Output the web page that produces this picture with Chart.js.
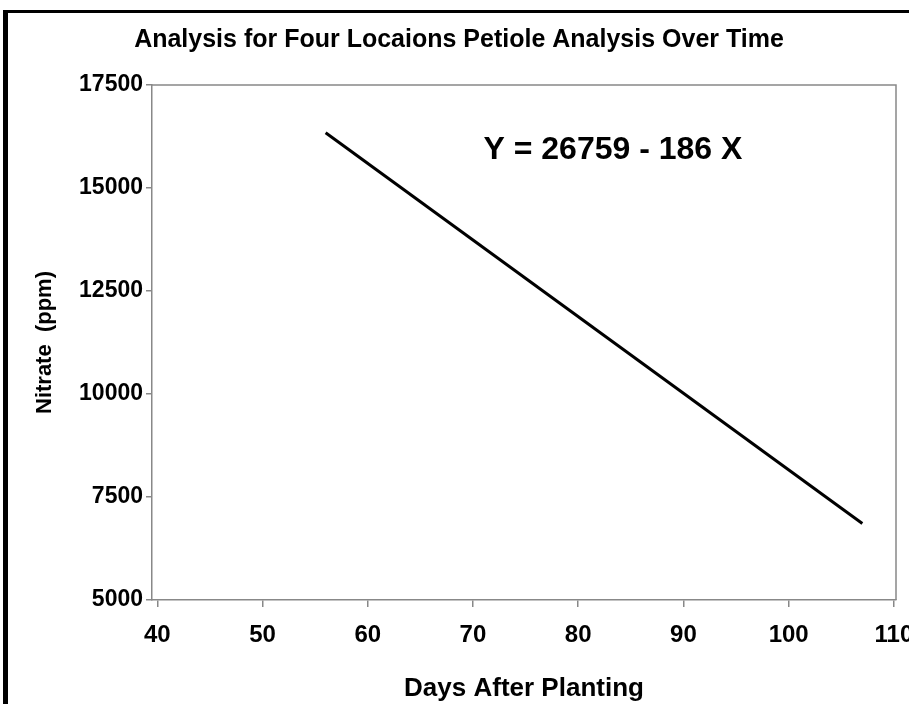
<!DOCTYPE html>
<html>
<head>
<meta charset="utf-8">
<script src="https://cdn.jsdelivr.net/npm/chart.js@4.4.1/dist/chart.umd.min.js"></script>
<style>
  html, body { margin: 0; padding: 0; background: #fff; overflow: hidden; }
  #frame {
    position: absolute; left: 3px; top: 10px; width: 1000px; height: 1000px;
    border-left: 5px solid #000; border-top: 3px solid #000;
  }
  #wrap { position: absolute; left: 0; top: 0; width: 909px; height: 704px; }
</style>
</head>
<body>
<div id="frame"></div>
<div id="wrap"><canvas id="c" width="909" height="704"></canvas></div>
<script>
const chartTitle = "Analysis for Four Locaions Petiole Analysis Over Time";
const xTitle = "Days After Planting";
const yTitle = "Nitrate  (ppm)";
const equation = "Y = 26759 - 186 X";

// fitted line endpoints (days, ppm)
const days = [56, 107];
const nitrate = [16343, 6857];

const xTicks = [40, 50, 60, 70, 80, 90, 100, 110];
const yTicks = [5000, 7500, 10000, 12500, 15000, 17500];

const eqPos = { x: 83.3, y: 15920 };

const FONT = "'Liberation Sans', Arial, sans-serif";
const axisGray = "#888888";

const boxAndLabel = {
  id: "boxAndLabel",
  afterDraw(chart) {
    const { ctx, chartArea: a, scales } = chart;
    ctx.save();
    ctx.strokeStyle = axisGray;
    ctx.lineWidth = 1.5;
    ctx.beginPath();
    ctx.moveTo(a.left, a.top);
    ctx.lineTo(a.right, a.top);
    ctx.lineTo(a.right, a.bottom);
    ctx.stroke();
    ctx.fillStyle = "#000";
    ctx.font = "bold 32px " + FONT;
    ctx.textAlign = "center";
    ctx.textBaseline = "middle";
    ctx.fillText(equation, scales.x.getPixelForValue(eqPos.x), scales.y.getPixelForValue(eqPos.y));
    ctx.restore();
  }
};

new Chart(document.getElementById("c"), {
  type: "line",
  data: {
    datasets: [{
      data: days.map((d, i) => ({ x: d, y: nitrate[i] })),
      borderColor: "#000",
      borderWidth: 3,
      pointRadius: 0,
      tension: 0
    }]
  },
  options: {
    responsive: false,
    animation: false,
    layout: { padding: { left: 22, right: 13, top: 0, bottom: 0 } },
    plugins: {
      legend: { display: false },
      tooltip: { enabled: false },
      title: {
        display: true,
        text: chartTitle,
        color: "#000",
        font: { family: FONT, size: 25, weight: "bold" },
        padding: { top: 25, bottom: 30 }
      }
    },
    scales: {
      x: {
        type: "linear",
        min: 39.5,
        max: 110.2,
        afterBuildTicks: s => { s.ticks = xTicks.map(v => ({ value: v })); },
        afterFit: s => { s.height = 104; s.paddingLeft = 0; s.paddingRight = 0; },
        border: { color: axisGray, width: 1.5 },
        grid: { drawOnChartArea: false, drawTicks: true, tickLength: 7, color: axisGray, lineWidth: 1.5 },
        ticks: {
          color: "#000",
          padding: 14,
          maxRotation: 0,
          callback: v => String(v),
          font: { family: FONT, size: 24, weight: "bold" }
        },
        title: {
          display: true,
          text: xTitle,
          color: "#000",
          font: { family: FONT, size: 26, weight: "bold" },
          padding: { top: 0, bottom: 0 }
        }
      },
      y: {
        type: "linear",
        min: 5000,
        max: 17500,
        afterBuildTicks: s => { s.ticks = yTicks.map(v => ({ value: v })); },
        afterFit: s => { s.width = 130; s.paddingTop = 0; s.paddingBottom = 0; },
        border: { color: axisGray, width: 1.5 },
        grid: { drawOnChartArea: false, drawTicks: true, tickLength: 6, color: axisGray, lineWidth: 1.5 },
        ticks: {
          color: "#000",
          padding: 3,
          callback: v => String(v),
          font: { family: FONT, size: 23, weight: "bold" }
        },
        title: {
          display: true,
          text: yTitle,
          color: "#000",
          font: { family: FONT, size: 22, weight: "bold" },
          padding: { top: 10, bottom: 0 }
        }
      }
    }
  },
  plugins: [boxAndLabel]
});
</script>
</body>
</html>
